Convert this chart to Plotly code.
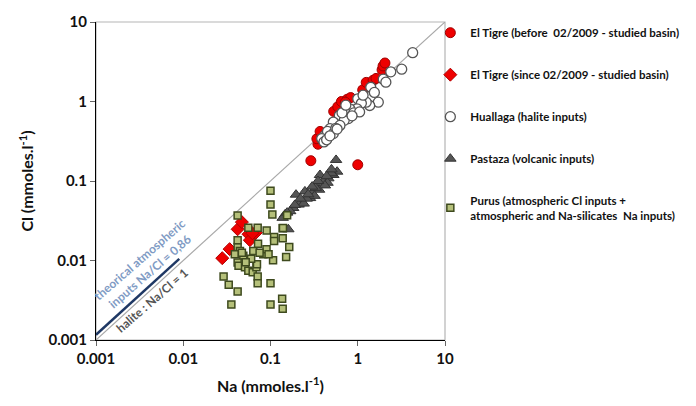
import plotly.graph_objects as go

# ---------------- data ----------------
tigre_before_na = [0.29, 1.0, 0.35, 0.34, 0.37, 0.53, 0.59, 0.65, 0.76, 0.83, 0.72, 1.14, 1.25, 1.5, 1.62, 1.9, 1.95, 2.05]
tigre_before_cl = [0.18, 0.16, 0.29, 0.34, 0.42, 0.75, 0.86, 1.0, 1.07, 1.12, 0.98, 1.4, 1.74, 1.85, 1.95, 2.5, 2.8, 3.05]

tigre_since_na = [0.028, 0.034, 0.042, 0.047, 0.056, 0.058, 0.068, 0.062]
tigre_since_cl = [0.0107, 0.0139, 0.0247, 0.0304, 0.0214, 0.018, 0.0224, 0.022]

huallaga_na = [4.26, 3.19, 2.39, 1.96, 2.1, 1.41, 1.72, 1.37, 1.25, 1.0, 1.1, 0.98, 0.81, 0.9, 0.78,
               0.615, 0.7, 0.525, 0.625, 0.481, 0.422, 0.45, 0.525, 0.386, 0.41, 0.56, 0.66, 1.55, 1.15, 0.73,
               0.44, 0.48, 0.58, 1.05, 0.86]
huallaga_cl = [4.11, 2.55, 2.36, 1.91, 1.75, 1.51, 0.98, 0.89, 0.98, 1.08, 0.95, 0.81, 0.81, 0.72, 0.61,
               0.668, 0.58, 0.551, 0.5, 0.455, 0.377, 0.42, 0.395, 0.342, 0.31, 0.46, 0.72, 1.3, 1.2, 0.9,
               0.33, 0.37, 0.45, 0.74, 0.66]

pastaza_na = [0.564, 0.58, 0.525, 0.46, 0.40, 0.369, 0.36, 0.297, 0.248, 0.284, 0.228, 0.196, 0.21, 0.182,
              0.168, 0.147, 0.138, 0.16, 0.369, 0.50, 0.45, 0.42, 0.33, 0.32, 0.26, 0.24, 0.27,
              0.50, 0.44, 0.35, 0.30, 0.22, 0.19, 0.155]
pastaza_cl = [0.184, 0.131, 0.119, 0.108, 0.0986, 0.0897, 0.0777, 0.0705, 0.074, 0.061, 0.0556, 0.0673, 0.0505, 0.0458,
              0.0417, 0.038, 0.0344, 0.0247, 0.119, 0.125, 0.095, 0.088, 0.082, 0.065, 0.060, 0.052, 0.068,
              0.14, 0.115, 0.1, 0.085, 0.06, 0.05, 0.04]

purus_na = [0.1, 0.1, 0.105, 0.042, 0.0557, 0.0713, 0.0904, 0.138, 0.138, 0.11, 0.11, 0.164, 0.151, 0.107, 0.1,
            0.136, 0.138, 0.1, 0.0356, 0.029, 0.0332, 0.042, 0.042, 0.0447, 0.039, 0.0488, 0.042, 0.043, 0.051,
            0.0557, 0.0625, 0.069, 0.07, 0.0635, 0.072, 0.0827, 0.09, 0.095, 0.0713, 0.0713, 0.042, 0.155, 0.139,
            0.047, 0.075, 0.06, 0.052]
purus_cl = [0.0755, 0.0505, 0.038, 0.0368, 0.0258, 0.0258, 0.0239, 0.0254, 0.019, 0.0198, 0.0176, 0.0148, 0.0111,
            0.0101, 0.00518, 0.0033, 0.00248, 0.00279, 0.00279, 0.00627, 0.00494, 0.00408, 0.0148, 0.0132, 0.012,
            0.0115, 0.00946, 0.0086, 0.0082, 0.00745, 0.0071, 0.0082, 0.009, 0.0132, 0.0163, 0.012, 0.0139, 0.012,
            0.00627, 0.00518, 0.018, 0.0372, 0.0256, 0.0125, 0.0125, 0.0105, 0.0095]

halite_na = [0.001, 10]          # Na/Cl = 1
halite_ratio = 1.0
atmos_na = [0.001, 0.009]        # Na/Cl = 0.86
atmos_ratio = 0.86

tick_vals = [0.001, 0.01, 0.1, 1, 10]
tick_text = ["0.001", "0.01", "0.1", "1", "10"]

names = [
    "El Tigre (before  02/2009 - studied basin)",
    "El Tigre (since 02/2009 - studied basin)",
    "Huallaga (halite inputs)",
    "Pastaza (volcanic inputs)",
    "Purus (atmospheric Cl inputs +<br>atmospheric and Na-silicates  Na inputs)",
]

FONT = "Lato"

fig = go.Figure()

# reference lines
fig.add_trace(go.Scatter(x=halite_na, y=[v / halite_ratio for v in halite_na], mode="lines",
                         line=dict(color="#a8a8a8", width=1.2), showlegend=False, hoverinfo="skip"))
fig.add_trace(go.Scatter(x=atmos_na, y=[v / atmos_ratio for v in atmos_na], mode="lines",
                         line=dict(color="#1f3864", width=2.5), showlegend=False, hoverinfo="skip"))

fig.add_trace(go.Scatter(x=tigre_before_na, y=tigre_before_cl, mode="markers", name=names[0], legendgroup="a",
                         marker=dict(symbol="circle", size=10, color="#ee0000", line=dict(color="#a00000", width=1))))
fig.add_trace(go.Scatter(x=tigre_since_na, y=tigre_since_cl, mode="markers", name=names[1], legendgroup="b",
                         marker=dict(symbol="diamond", size=10, color="#ee0000", line=dict(color="#b00000", width=1))))
fig.add_trace(go.Scatter(x=huallaga_na, y=huallaga_cl, mode="markers", name=names[2], legendgroup="c",
                         marker=dict(symbol="circle", size=10, color="white", line=dict(color="#555555", width=1.3))))
fig.add_trace(go.Scatter(x=pastaza_na, y=pastaza_cl, mode="markers", name=names[3], legendgroup="d",
                         marker=dict(symbol="triangle-up", size=10, color="#555555", line=dict(color="#333333", width=1))))
fig.add_trace(go.Scatter(x=purus_na, y=purus_cl, mode="markers", name=names[4], legendgroup="e",
                         marker=dict(symbol="square", size=7, color="#b5c07a", line=dict(color="#3e4a1e", width=1.5))))

axis_common = dict(type="log", range=[-3, 1], tickvals=tick_vals, ticktext=tick_text,
                   showgrid=False, zeroline=False, showline=True, linecolor="black", linewidth=1.2,
                   ticks="outside", ticklen=5, tickcolor="#666666",
                   tickfont=dict(family=FONT, size=15, color="#111111", weight="bold"))

fig.update_xaxes(**axis_common,
                 title=dict(text="Na (mmoles.l<sup>-1</sup>)", standoff=14,
                            font=dict(family=FONT, size=16, color="#111111", weight="bold")))
fig.update_yaxes(**axis_common,
                 title=dict(text="Cl (mmoles.l<sup>-1</sup>)", standoff=10,
                            font=dict(family=FONT, size=16, color="#111111", weight="bold")))

# gray box around plot area
fig.add_shape(type="rect", xref="paper", yref="paper", x0=0, y0=0, x1=1, y1=1,
              line=dict(color="#b5b5b5", width=1.2), layer="below")

fig.add_annotation(x=-2.438, y=-2.065, xref="x", yref="y",
                   text="theorical atmospheric<br>inputs Na/Cl = 0,86", showarrow=False,
                   textangle=-41, font=dict(family=FONT, size=12, color="#7f9bc4", weight="bold"),
                   xanchor="center", yanchor="middle")
fig.add_annotation(x=-2.36, y=-2.50, xref="x", yref="y",
                   text="halite : Na/Cl = 1", showarrow=False,
                   textangle=-41, font=dict(family=FONT, size=12, color="#555555", weight="bold"),
                   xanchor="center", yanchor="middle")

fig.update_layout(
    width=696, height=406,
    margin=dict(l=96, r=251, t=19, b=66),
    paper_bgcolor="white", plot_bgcolor="white",
    legend=dict(x=0.958, y=1.012, xanchor="left", yanchor="top",
                font=dict(family=FONT, size=11.5, color="#111111", weight="bold"),
                tracegroupgap=23, bgcolor="rgba(0,0,0,0)", itemwidth=30, maxheight=400),
)

fig.write_html("out.html")
